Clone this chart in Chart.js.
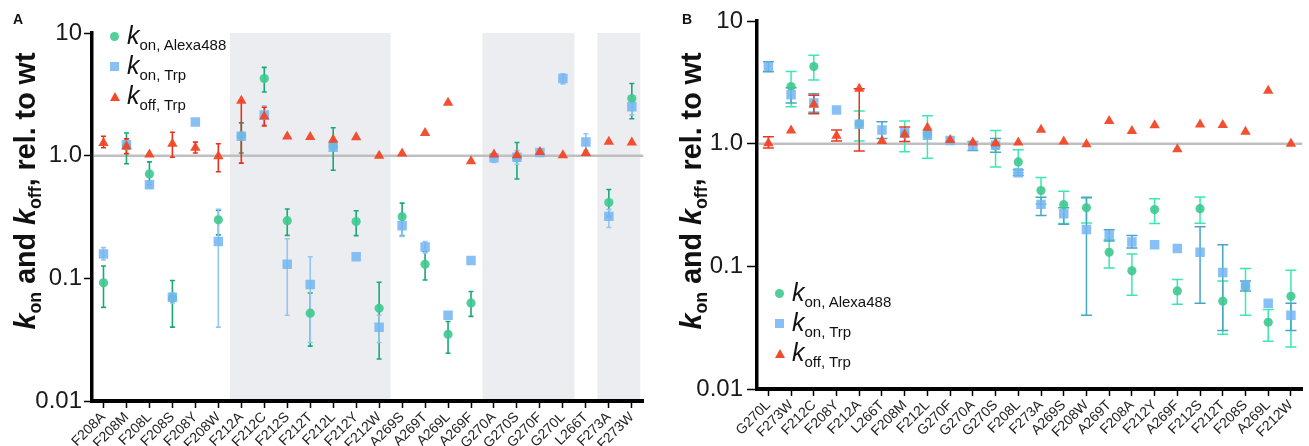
<!DOCTYPE html>
<html>
<head>
<meta charset="utf-8">
<script src="https://cdn.jsdelivr.net/npm/chart.js@4.4.1/dist/chart.umd.min.js"></script>
<style>
  html, body { margin: 0; padding: 0; background: #fff; }
  #page { position: relative; width: 1309px; height: 446px; overflow: hidden; font-family: "Liberation Sans", Arial, sans-serif; color: #111; }
  canvas { position: absolute; top: 0; }
  #chartA { left: 0; }
  #chartB { left: 650px; }
  .letra { position: absolute; font-weight: bold; font-size: 14px; line-height: 1; }
  .titulo { position: absolute; font-weight: bold; font-size: 30px; line-height: 1; white-space: nowrap; }
  .titulo sub { font-size: 0.62em; vertical-align: baseline; position: relative; top: 0.32em; }
  .leyenda { position: absolute; }
  .fila { position: relative; height: 30px; white-space: nowrap; }
  .fila .texto { position: absolute; left: 17px; top: 0; font-size: 25px; line-height: 26px; }
  .fila .texto sub { font-size: 15px; vertical-align: baseline; position: relative; top: 6px; }
  .marca { position: absolute; left: 0; }
  .circulo { width: 9px; height: 9px; border-radius: 50%; background: rgba(62, 201, 143, 0.9); top: 10px; }
  .cuadrado { width: 9px; height: 9px; background: rgba(115, 181, 243, 0.85); top: 10px; }
  .triangulo { width: 0; height: 0; border-left: 5px solid transparent; border-right: 5px solid transparent; border-bottom: 9px solid #f24b2a; top: 10px; left: -0.5px; }
</style>
</head>
<body>
<div id="page">
  <canvas id="chartA" width="650" height="446"></canvas>
  <canvas id="chartB" width="659" height="446"></canvas>

  <div class="letra" style="left:13px; top:12px;">A</div>
  <div class="letra" style="left:682px; top:12px;">B</div>

  <div class="titulo" id="tituloA"><i>k</i><sub>on</sub> and <i>k</i><sub>off</sub>, rel. to wt</div>
  <div class="titulo" id="tituloB"><i>k</i><sub>on</sub> and <i>k</i><sub>off</sub>, rel. to wt</div>

  <div class="leyenda" style="left:110px; top:22px;">
    <div class="fila"><span class="marca circulo"></span><span class="texto"><i>k</i><sub>on, Alexa488</sub></span></div>
    <div class="fila"><span class="marca cuadrado"></span><span class="texto"><i>k</i><sub>on, Trp</sub></span></div>
    <div class="fila"><span class="marca triangulo"></span><span class="texto"><i>k</i><sub>off, Trp</sub></span></div>
  </div>
  <div class="leyenda" style="left:775px; top:279px;">
    <div class="fila"><span class="marca circulo"></span><span class="texto"><i>k</i><sub>on, Alexa488</sub></span></div>
    <div class="fila"><span class="marca cuadrado"></span><span class="texto"><i>k</i><sub>on, Trp</sub></span></div>
    <div class="fila"><span class="marca triangulo"></span><span class="texto"><i>k</i><sub>off, Trp</sub></span></div>
  </div>
</div>

<script>
// Mutantes en el orden del panel A
const mutantes = ["F208A", "F208M", "F208L", "F208S", "F208Y", "F208W", "F212A", "F212C", "F212S", "F212T", "F212L", "F212Y", "F212W", "A269S", "A269T", "A269L", "A269F", "G270A", "G270S", "G270F", "G270L", "L266T", "F273A", "F273W"];
// Orden del panel B
const ordenB = ["G270L", "F273W", "F212C", "F208Y", "F212A", "L266T", "F208M", "F212L", "G270F", "G270A", "G270S", "F208L", "F273A", "A269S", "F208W", "A269T", "F208A", "F212Y", "A269F", "F212S", "F212T", "F208S", "A269L", "F212W"];

const konAlexa = [0.092, 1.20, 0.71, 0.069, null, 0.30, 1.45, 4.25, 0.295, 0.052, 1.20, 0.29, 0.057, 0.318, 0.130, 0.035, 0.063, null, 0.96, null, null, null, 0.415, 2.92];
const konAlexaBajo = [0.058, 0.86, 0.58, 0.040, null, 0.226, 1.05, 3.3, 0.224, 0.028, 0.76, 0.223, 0.022, 0.223, 0.097, 0.0245, 0.049, null, 0.645, null, null, null, 0.32, 2.0];
const konAlexaAlto = [0.126, 1.53, 0.89, 0.096, null, 0.36, 1.85, 5.25, 0.367, 0.076, 1.69, 0.356, 0.093, 0.41, 0.165, 0.0445, 0.078, null, 1.28, null, null, null, 0.53, 3.87];

const konTrp = [0.158, 1.23, 0.58, 0.070, 1.88, 0.20, 1.44, 2.15, 0.130, 0.089, 1.17, 0.150, 0.040, 0.268, 0.180, 0.050, 0.140, 0.96, 0.97, 1.06, 4.25, 1.29, 0.32, 2.5];
const konTrpBajo = [0.141, null, 0.55, 0.063, null, 0.040, null, 1.8, 0.050, 0.030, null, null, 0.030, 0.22, 0.161, null, null, 0.88, 0.85, null, 3.85, 1.10, 0.26, 2.15];
const konTrpAlto = [0.178, null, 0.61, 0.076, null, 0.366, null, 2.55, 0.210, 0.150, null, null, 0.050, 0.30, 0.199, null, null, 1.04, 1.10, null, 4.65, 1.51, 0.365, 2.85];

const koffTrp = [1.27, 1.19, 1.02, 1.25, 1.16, 0.99, 2.81, 2.09, 1.43, 1.42, 1.35, 1.41, 1.0, 1.04, 1.53, 2.70, 0.90, 1.02, 1.01, 1.07, 1.01, 1.05, 1.30, 1.28];
const koffTrpBajo = [1.16, 1.04, null, 0.97, 1.05, 0.74, 0.87, 1.75, null, null, null, null, null, null, null, null, null, null, null, null, 0.92, null, null, null];
const koffTrpAlto = [1.44, 1.37, null, 1.55, 1.29, 1.25, 2.81, 2.48, null, null, null, null, null, null, null, null, null, null, null, null, 1.14, null, null, null];

// Barras de error de koff que no aparecen en cada panel
const sinErrorKoffA = ["G270L"];
const sinErrorKoffB = ["F208A", "F208S", "F208W"];

// Bloques sombreados del panel A (primer y último mutante de cada bloque)
const bloquesA = [["F212A", "F212W"], ["G270A", "G270L"], ["F273A", "F273W"]];

const ticksY = [0.01, 0.1, 1, 10];
const etiquetasY = ["0.01", "0.1", "1.0", "10"];

Chart.defaults.font.family = "'Liberation Sans', Arial, sans-serif";

const pluginPanel = {
  id: "panelDecor",
  beforeDraw(chart, args, opts) {
    const { ctx, chartArea } = chart;
    const x = chart.scales.x;
    const paso = x.getPixelForValue(1) - x.getPixelForValue(0);
    const etiquetas = chart.data.labels;
    ctx.save();
    ctx.fillStyle = "#ecedf0";
    (opts.bloques || []).forEach(([a, b]) => {
      const x0 = x.getPixelForValue(etiquetas.indexOf(a)) - paso / 2;
      const x1 = Math.min(x.getPixelForValue(etiquetas.indexOf(b)) + paso / 2, chartArea.right - 3);
      ctx.fillRect(x0, chartArea.top, x1 - x0, chartArea.bottom - chartArea.top);
    });
    ctx.restore();
  },
  beforeDatasetsDraw(chart, args, opts) {
    const { ctx, chartArea } = chart;
    const x = chart.scales.x;
    const y = chart.scales.y;
    ctx.save();
    const yUno = y.getPixelForValue(1);
    ctx.strokeStyle = "#bfbfbf";
    ctx.lineWidth = 2.5;
    ctx.beginPath();
    ctx.moveTo(chartArea.left + 2, yUno);
    ctx.lineTo(chartArea.right, yUno);
    ctx.stroke();

    ctx.lineWidth = opts.grosor;
    chart.data.datasets.slice().sort((a, b) => b.order - a.order).forEach((ds) => {
      ctx.strokeStyle = ds.colorError;
      ds.data.forEach((v, i) => {
        const bajo = ds.errorBajo[i];
        const alto = ds.errorAlto[i];
        if (bajo == null || alto == null) return;
        const px = x.getPixelForValue(i);
        const p0 = y.getPixelForValue(bajo);
        const p1 = y.getPixelForValue(alto);
        ctx.beginPath();
        ctx.moveTo(px, p0); ctx.lineTo(px, p1);
        ctx.moveTo(px - opts.tapa, p0); ctx.lineTo(px + opts.tapa, p0);
        ctx.moveTo(px - opts.tapa, p1); ctx.lineTo(px + opts.tapa, p1);
        ctx.stroke();
      });
    });
    ctx.restore();
  },
};

function crearPanel(canvasId, orden, cfg) {
  const indices = orden.map((m) => mutantes.indexOf(m));
  const tomar = (arr) => indices.map((i) => arr[i]);
  const tomarKoff = (arr) => indices.map((i) => (cfg.sinErrorKoff.includes(mutantes[i]) ? null : arr[i]));
  const serie = (label, datos, bajo, alto, estilo, radio, color, colorError, order) => ({
    label,
    data: tomar(datos),
    errorBajo: bajo,
    errorAlto: alto,
    colorError,
    showLine: false,
    pointStyle: estilo,
    pointRadius: radio,
    pointHoverRadius: radio,
    pointBackgroundColor: color,
    pointBorderWidth: 0,
    borderWidth: 0,
    order,
  });

  return new Chart(document.getElementById(canvasId), {
    type: "line",
    data: {
      labels: orden,
      datasets: [
        serie("koff, Trp", koffTrp, tomarKoff(koffTrpBajo), tomarKoff(koffTrpAlto), "triangle", 6, "rgba(242,70,38,0.95)", cfg.errRojo, 0),
        serie("kon, Trp", konTrp, tomar(konTrpBajo), tomar(konTrpAlto), "rect", 6.7, "rgba(115,181,243,0.85)", cfg.errAzul, 1),
        serie("kon, Alexa488", konAlexa, tomar(konAlexaBajo), tomar(konAlexaAlto), "circle", 4.6, "rgba(62,201,143,0.9)", cfg.errVerde, 2),
      ],
    },
    options: {
      responsive: false,
      animation: false,
      events: [],
      layout: { padding: cfg.padding },
      plugins: {
        legend: { display: false },
        tooltip: { enabled: false },
        panelDecor: { bloques: cfg.bloques, tapa: cfg.tapa, grosor: cfg.grosor },
      },
      scales: {
        x: {
          type: "category",
          offset: true,
          grid: { display: true, drawOnChartArea: false, drawTicks: true, tickLength: 7, tickColor: "#000", tickWidth: 1.5 },
          border: { display: true, color: "#000", width: 4 },
          ticks: { minRotation: 45, maxRotation: 45, autoSkip: false, color: "#222", font: { size: 14 }, padding: 1 },
          afterFit: (escala) => { escala.height = cfg.altoX; },
        },
        y: {
          type: "logarithmic",
          min: 0.01,
          max: 10,
          afterBuildTicks: (escala) => { escala.ticks = ticksY.map((v) => ({ value: v })); },
          grid: { display: true, drawOnChartArea: false, drawTicks: true, tickLength: cfg.largoTick, tickColor: "#000", tickWidth: 1.5 },
          border: { display: true, color: "#000", width: 3.5 },
          ticks: { color: "#1a1a1a", font: { size: 24 }, padding: cfg.sepTick, callback: (v, i) => etiquetasY[i] },
          afterFit: (escala) => { escala.width = cfg.anchoY; },
        },
      },
    },
    plugins: [pluginPanel],
  });
}

crearPanel("chartA", mutantes, {
  padding: { top: 33, right: 6, bottom: 0, left: 0 },
  anchoY: 92, altoX: 45, largoTick: 8, sepTick: 2,
  bloques: bloquesA, tapa: 2.5, grosor: 1.6, sinErrorKoff: sinErrorKoffA,
  errVerde: "#18a87a", errAzul: "#94c6f2", errRojo: "#e8301c",
});

crearPanel("chartB", ordenB, {
  padding: { top: 21, right: 2, bottom: 0, left: 0 },
  anchoY: 107, altoX: 57, largoTick: 10, sepTick: 4,
  bloques: [], tapa: 5.5, grosor: 1.5, sinErrorKoff: sinErrorKoffB,
  errVerde: "#3ae8b0", errAzul: "#46a6c4", errRojo: "#e83624",
});

function colocarTitulo(id, cx, cy, largo) {
  const el = document.getElementById(id);
  const ancho = el.offsetWidth;
  const alto = el.offsetHeight;
  el.style.left = (cx - ancho / 2) + "px";
  el.style.top = (cy - alto / 2) + "px";
  el.style.transform = `rotate(-90deg) scaleX(${largo / ancho})`;
}
colocarTitulo("tituloA", 25, 191, 277);
colocarTitulo("tituloB", 691, 191, 277);
</script>
</body>
</html>
